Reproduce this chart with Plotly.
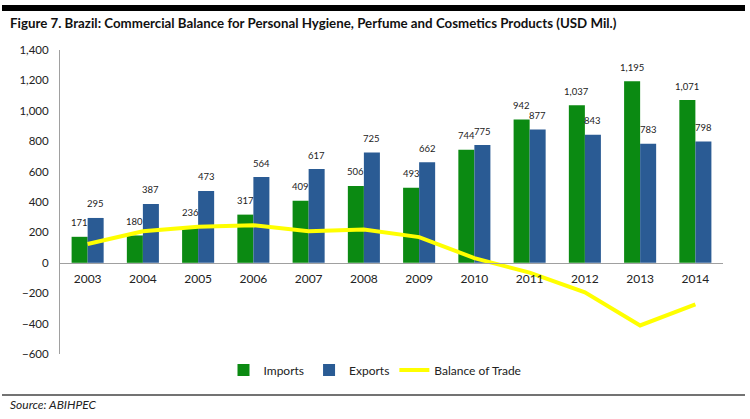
import plotly.graph_objects as go

years = ["2003", "2004", "2005", "2006", "2007", "2008", "2009", "2010", "2011", "2012", "2013", "2014"]
imports = [171, 180, 236, 317, 409, 506, 493, 744, 942, 1037, 1195, 1071]
exports = [295, 387, 473, 564, 617, 725, 662, 775, 877, 843, 783, 798]
balance = [124, 207, 237, 247, 208, 219, 169, 31, -65, -194, -412, -273]
y_ticks = [-600, -400, -200, 0, 200, 400, 600, 800, 1000, 1200, 1400]

W, H = 750, 419
L, R, T, B = 60, 27, 50, 65
PW, PH = W - L - R, H - T - B
FONT = "Lato"


def px(xp):
    return (xp - L) / PW


def py(yp):
    return (H - B - yp) / PH


fig = go.Figure()
fig.add_trace(go.Bar(x=years, y=imports, name="Imports", marker_color="#0B8A12",
                     marker_line_width=0))
fig.add_trace(go.Bar(x=years, y=exports, name="Exports", marker_color="#2A5B94",
                     marker_line_width=0))
fig.add_trace(go.Scatter(x=years, y=balance, name="Balance of Trade", mode="lines",
                         line=dict(color="#FFFF00", width=4)))

annotations = []
for i, v in enumerate(imports):
    annotations.append(dict(x=i, y=v, text=f"{v:,}", showarrow=False, xshift=-8, yshift=14,
                            yanchor="middle", font=dict(family=FONT, size=9.5, color="#222")))
for i, v in enumerate(exports):
    annotations.append(dict(x=i, y=v, text=f"{v:,}", showarrow=False, xshift=8, yshift=14,
                            yanchor="middle", font=dict(family=FONT, size=9.5, color="#222")))

annotations.append(dict(xref="paper", yref="paper", x=px(8), y=py(22.5), xanchor="left",
                        yanchor="middle", showarrow=False,
                        text="<b>Figure 7. Brazil: Commercial Balance for Personal Hygiene, Perfume and Cosmetics Products (USD Mil.)</b>",
                        font=dict(family=FONT, size=13.3, color="#111")))
annotations.append(dict(xref="paper", yref="paper", x=px(8), y=py(404), xanchor="left",
                        yanchor="middle", showarrow=False, text="<i>Source: ABIHPEC</i>",
                        font=dict(family=FONT, size=12, color="#222")))

shapes = [
    dict(type="rect", xref="paper", yref="paper", x0=px(2), x1=px(745), y0=py(11), y1=py(5),
         fillcolor="#000", line_width=0),
    dict(type="line", xref="paper", yref="paper", x0=px(2), x1=px(745), y0=py(395), y1=py(395),
         line=dict(color="#444", width=1.5)),
]

fig.update_layout(
    width=W, height=H, margin=dict(l=L, r=R, t=T, b=B),
    paper_bgcolor="white", plot_bgcolor="white",
    barmode="group", bargap=0.42, bargroupgap=0,
    font=dict(family=FONT, color="#222"),
    showlegend=True,
    legend=dict(orientation="h", x=px(375), xanchor="center", y=py(370), yanchor="middle",
                font=dict(family=FONT, size=12, color="#222"), traceorder="normal"),
    annotations=annotations, shapes=shapes,
    xaxis=dict(type="category", range=[-0.5, len(years) - 0.5], autorange=False,
               anchor="free", position=0.3, showline=True, linecolor="#A0A0A0",
               linewidth=1, showgrid=False, ticks="outside", ticklen=5, tickcolor="rgba(0,0,0,0)",
               tickfont=dict(family=FONT, size=12, color="#222")),
    yaxis=dict(range=[-600, 1400], autorange=False, tickvals=y_ticks, tickformat=",",
               showgrid=False, zeroline=False, showline=True, linecolor="#A0A0A0", linewidth=1,
               ticks="outside", ticklen=8, tickcolor="rgba(0,0,0,0)",
               tickfont=dict(family=FONT, size=11.5, color="#222")),
)

fig.write_html("out.html")
